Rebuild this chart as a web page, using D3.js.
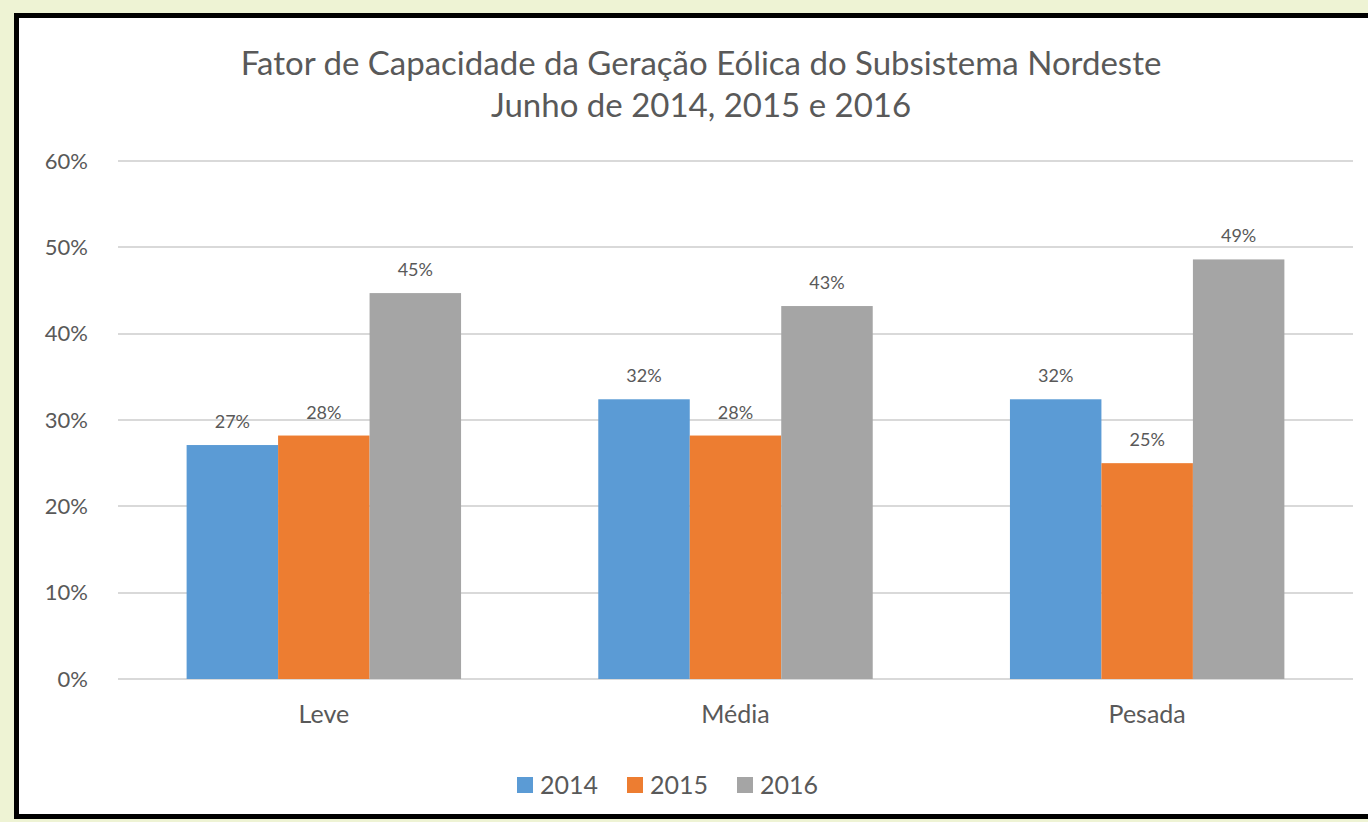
<!DOCTYPE html>
<html lang="pt">
<head>
<meta charset="utf-8">
<title>Fator de Capacidade - Nordeste</title>
<script src="https://d3js.org/d3.v7.min.js"></script>
<style>
  html, body { margin: 0; padding: 0; }
  body { background: #eef3d4; width: 1368px; height: 822px; overflow: hidden; }
  svg { display: block; }
  .grid line { stroke: #d9d9d9; stroke-width: 2; }
  text { font-family: Lato, "Open Sans", sans-serif; fill: #595959; }
</style>
</head>
<body>
<script>
  var width = 1368, height = 822;

  // data
  var categories = ["Leve", "Média", "Pesada"];
  var years = ["2014", "2015", "2016"];
  var v2014 = [0.271, 0.324, 0.324];
  var v2015 = [0.282, 0.282, 0.250];
  var v2016 = [0.447, 0.432, 0.486];
  var labels2014 = ["27%", "32%", "32%"];
  var labels2015 = ["28%", "28%", "25%"];
  var labels2016 = ["45%", "43%", "49%"];
  var yTicks = [0, 0.1, 0.2, 0.3, 0.4, 0.5, 0.6];
  var colors = ["#5b9bd5", "#ed7d31", "#a5a5a5"];

  var series = [v2014, v2015, v2016];
  var seriesLabels = [labels2014, labels2015, labels2016];

  var rows = [];
  categories.forEach(function(c, i) {
    years.forEach(function(y, j) {
      rows.push({cat: c, year: y, value: series[j][i], label: seriesLabels[j][i], color: colors[j]});
    });
  });

  var svg = d3.select("body").append("svg")
      .attr("width", width)
      .attr("height", height);

  // frame
  svg.append("rect")
      .attr("x", 16.5).attr("y", 15.5)
      .attr("width", 1400).attr("height", 801)
      .attr("fill", "#ffffff")
      .attr("stroke", "#000000")
      .attr("stroke-width", 5);

  // scales
  var x = d3.scaleBand().domain(categories).range([118, 1353]).padding(0);
  var xInner = d3.scaleBand().domain(years)
      .range([x.bandwidth() / 6, x.bandwidth() * 5 / 6]).padding(0);
  var y = d3.scaleLinear().domain([0, 0.6]).range([679, 161]);

  // gridlines
  svg.append("g")
      .attr("class", "grid")
      .selectAll("line")
      .data(yTicks)
      .join("line")
        .attr("x1", 118).attr("x2", 1353)
        .attr("y1", function(d) { return Math.round(y(d)); })
        .attr("y2", function(d) { return Math.round(y(d)); });

  // y axis labels
  var yAxis = d3.axisLeft(y).tickValues(yTicks).tickFormat(d3.format(".0%")).tickSize(0).tickPadding(30);
  svg.append("g")
      .attr("transform", "translate(118,0)")
      .call(yAxis)
      .call(function(g) { g.select(".domain").remove(); })
      .call(function(g) {
        g.selectAll("text").attr("font-size", 22).attr("fill", "#595959")
          .attr("font-family", "Lato, sans-serif");
      });

  // bars
  svg.append("g")
      .selectAll("rect")
      .data(rows)
      .join("rect")
        .attr("x", function(d) { return x(d.cat) + xInner(d.year); })
        .attr("y", function(d) { return y(d.value); })
        .attr("width", xInner.bandwidth())
        .attr("height", function(d) { return y(0) - y(d.value); })
        .attr("fill", function(d) { return d.color; });

  // data labels
  svg.append("g")
      .selectAll("text")
      .data(rows)
      .join("text")
        .attr("x", function(d) { return x(d.cat) + xInner(d.year) + xInner.bandwidth() / 2; })
        .attr("y", function(d) { return y(d.value) - 17; })
        .attr("text-anchor", "middle")
        .attr("font-size", 18)
        .attr("fill", "#404040")
        .text(function(d) { return d.label; });

  // x axis labels
  var xAxis = d3.axisBottom(x).tickSize(0).tickPadding(26);
  svg.append("g")
      .attr("transform", "translate(0,679)")
      .call(xAxis)
      .call(function(g) { g.select(".domain").remove(); })
      .call(function(g) {
        g.selectAll("text").attr("font-size", 25).attr("fill", "#595959")
          .attr("font-family", "Lato, sans-serif");
      });

  // title
  svg.append("text")
      .attr("x", 701).attr("y", 75)
      .attr("text-anchor", "middle")
      .attr("font-size", 33)
      .text("Fator de Capacidade da Geração Eólica do Subsistema Nordeste");
  svg.append("text")
      .attr("x", 701).attr("y", 117)
      .attr("text-anchor", "middle")
      .attr("font-size", 33)
      .text("Junho de 2014, 2015 e 2016");

  // legend
  var legendX = [517, 627, 737];
  var legend = svg.append("g")
      .selectAll("g")
      .data(years)
      .join("g")
        .attr("transform", function(d, i) { return "translate(" + legendX[i] + ",785)"; });
  legend.append("rect")
      .attr("x", 0).attr("y", -8)
      .attr("width", 16).attr("height", 16)
      .attr("fill", function(d, i) { return colors[i]; });
  legend.append("text")
      .attr("x", 23).attr("y", 9)
      .attr("font-size", 25)
      .text(function(d) { return d; });
</script>
</body>
</html>
